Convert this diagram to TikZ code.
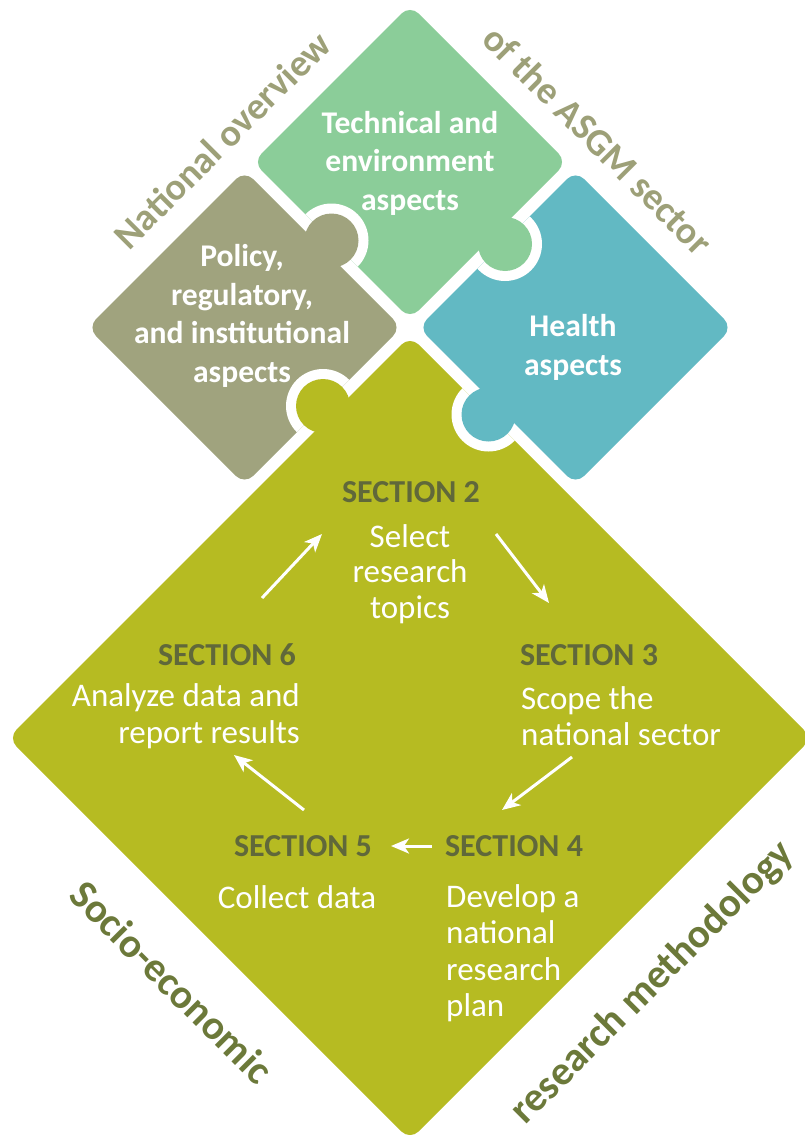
\documentclass[tikz,border=0pt]{standalone}
\usepackage{fontspec}
\setmainfont{Carlito}
\usetikzlibrary{arrows.meta}
\definecolor{cgreen}{RGB}{139,205,153}
\definecolor{colive}{RGB}{160,163,126}
\definecolor{cteal}{RGB}{98,185,195}
\definecolor{cyellow}{RGB}{182,187,34}
\definecolor{csec}{RGB}{96,104,58}
\definecolor{ctoplab}{RGB}{157,160,120}
\definecolor{cbotlab}{RGB}{108,121,58}
\begin{document}
\begin{tikzpicture}[x=1pt,y=-1pt,
  piecetext/.style={text=white, font=\bfseries\fontsize{31.6}{38.5}\selectfont, align=center, inner sep=0pt},
  sechead/.style={text=csec, font=\bfseries\fontsize{32}{37}\selectfont, inner sep=0pt},
  sectext/.style={text=white, font=\fontsize{33}{36.5}\selectfont, inner sep=0pt},
  sidelabel/.style={font=\bfseries\fontsize{38}{40}\selectfont, inner sep=0pt},
  bottomlabel/.style={font=\bfseries\fontsize{41}{43}\selectfont, inner sep=0pt, text=cbotlab},
  flow/.style={white, line width=3pt, -{Stealth[length=18pt,width=15pt,inset=5pt]}},
  piece/.style={rounded corners=12pt},
]
\useasboundingbox (0,0) rectangle (805,1142);
\clip (0,0) rectangle (805,1142);

% pieces
\def\greenpath{(410,5) -- (567,162) -- (410,319) -- (253,162) -- cycle}
\def\olivepath{(244.5,170.5) -- (401.5,327.5) -- (244.5,484.5) -- (87.5,327.5) -- cycle}
\def\tealpath{(575.5,170.5) -- (732.5,327.5) -- (575.5,484.5) -- (418.5,327.5) -- cycle}
\def\yellowpath{(410,336) -- (812,738) -- (410,1140) -- (8,738) -- cycle}
\fill[cgreen, piece] \greenpath;
\fill[colive, piece] \olivepath;
\fill[cteal, piece] \tealpath;
\fill[cyellow, piece] \yellowpath;

% knobs: olive -> green
\begin{scope}\clip \greenpath; \fill[white] (331.5,240.5) circle[radius=37]; \end{scope}
\fill[colive] (331.5,240.5) circle[radius=27];
% green -> teal
\begin{scope}\clip \tealpath; \fill[white] (505,244) circle[radius=37]; \end{scope}
\fill[cgreen] (505,244) circle[radius=27];
% teal -> yellow
\begin{scope}\clip \yellowpath; \fill[white] (488.5,414.5) circle[radius=37]; \end{scope}
\fill[cteal] (488.5,414.5) circle[radius=27];
% yellow -> olive
\begin{scope}\clip \olivepath; \fill[white] (323,406) circle[radius=37]; \end{scope}
\fill[cyellow] (323,406) circle[radius=27];

% piece labels
\node[piecetext] (tech) at (410,163) {Technical and\\environment\\aspects};
\node[piecetext] (policy) at (242,316) {Policy,\\regulatory,\\and institutional\\aspects};
\node[piecetext] (health) at (573,347.5) {Health\\aspects};

% side labels
\node[sidelabel, text=ctoplab, rotate=45] (natov) at (222,140) {National overview};
\node[sidelabel, text=ctoplab, rotate=-45] (asgm) at (598,140) {of the ASGM sector};
\node[bottomlabel, rotate=-45] (socio) at (172,982) {Socio-economic};
\node[bottomlabel, rotate=45] (resm) at (653,983) {research methodology};

% sections
\node[sechead] (s2) at (411,492) {SECTION 2};
\node[sectext, align=center, font=\fontsize{33}{35.5}\selectfont] (d2) at (410,574) {Select\\research\\topics};
\node[sechead] (s3) at (589,655) {SECTION 3};
\node[sectext, align=left, anchor=west] (d3) at (521,716) {Scope the\\national sector};
\node[sechead] (s4) at (514,846) {SECTION 4};
\node[sectext, align=left, anchor=west] (d4) at (446,953) {Develop a\\national\\research\\plan};
\node[sechead] (s5) at (303,846) {SECTION 5};
\node[sectext] (d5) at (297,897) {Collect data};
\node[sechead] (s6) at (227,655) {SECTION 6};
\node[sectext, align=right, anchor=east] (d6) at (300,716) {Analyze data and\\report results};

% arrows
\coordinate (a1s) at (262,598); \coordinate (a1e) at (322,534);
\coordinate (a2s) at (496,534); \coordinate (a2e) at (549,603);
\coordinate (a3s) at (572,757); \coordinate (a3e) at (502,810);
\coordinate (a4s) at (432,846); \coordinate (a4e) at (391,846);
\coordinate (a5s) at (304,810); \coordinate (a5e) at (234,755);
\draw[flow] (a1s) -- (a1e);
\draw[flow] (a2s) -- (a2e);
\draw[flow] (a3s) -- (a3e);
\draw[flow] (a4s) -- (a4e);
\draw[flow] (a5s) -- (a5e);
\end{tikzpicture}
\end{document}
